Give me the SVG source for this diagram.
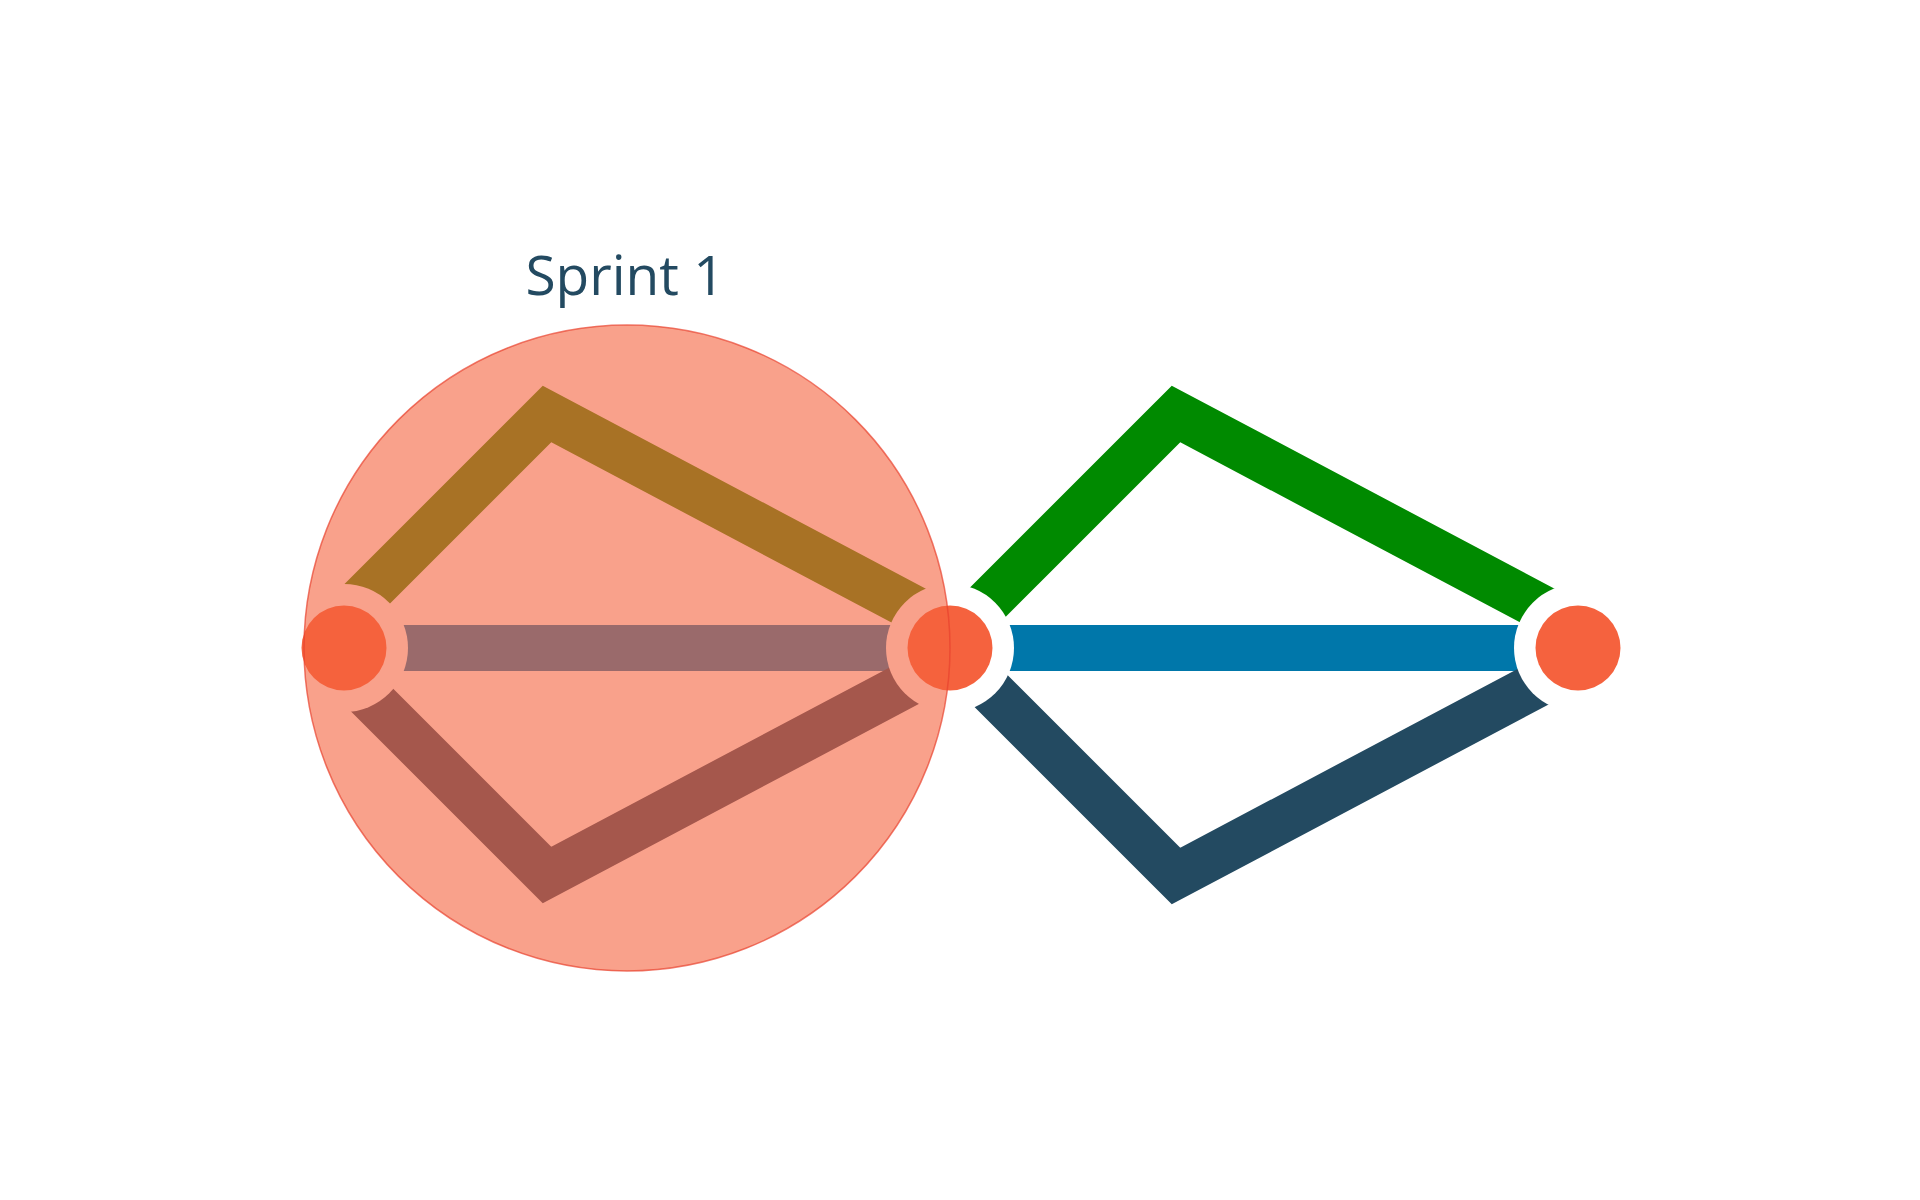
<svg xmlns="http://www.w3.org/2000/svg" width="1920" height="1200" viewBox="0 0 1920 1200">
<style>
.edge{fill:none;stroke-width:46;stroke-linejoin:miter;stroke-linecap:butt}
.halo{fill:#FFFFFF}
.node{fill:#F5623E}
.label{font-family:"Open Sans","Liberation Sans",sans-serif;font-size:55px;fill:#234A61}
</style>
<rect width="1920" height="1200" fill="#FFFFFF"/>
<g id="connectors">
<polyline class="edge" stroke="#358A00" points="328.5,632.5 547,414 958.5,632"/>
<line class="edge" stroke="#1276B0" x1="344" y1="648" x2="950" y2="648"/>
<polyline class="edge" stroke="#2D4661" points="332,660 547,875 955.6,658.5"/>
<polyline class="edge" stroke="#008A00" points="946,644 1176,414 1586.7,631.7"/>
<line class="edge" stroke="#0077AA" x1="950" y1="648" x2="1578" y2="648"/>
<polyline class="edge" stroke="#234A61" points="949,649 1176,876 1584.2,659.6"/>
</g>
<g id="node-1"><circle class="halo" cx="344" cy="648" r="64"/><circle class="node" cx="344" cy="648" r="42.5"/></g>
<g id="node-2"><circle class="halo" cx="950" cy="648" r="64"/><circle class="node" cx="950" cy="648" r="42.5"/></g>
<g id="node-3"><circle class="halo" cx="1578" cy="648" r="64"/><circle class="node" cx="1578" cy="648" r="42.5"/></g>
<g id="group-sprint-1">
<circle cx="627" cy="648" r="323" fill="#F5623E" fill-opacity="0.6" stroke="#E8412E" stroke-opacity="0.7" stroke-width="1.5"/>
<text class="label" x="625" y="295" text-anchor="middle">Sprint 1</text>
</g>
</svg>
